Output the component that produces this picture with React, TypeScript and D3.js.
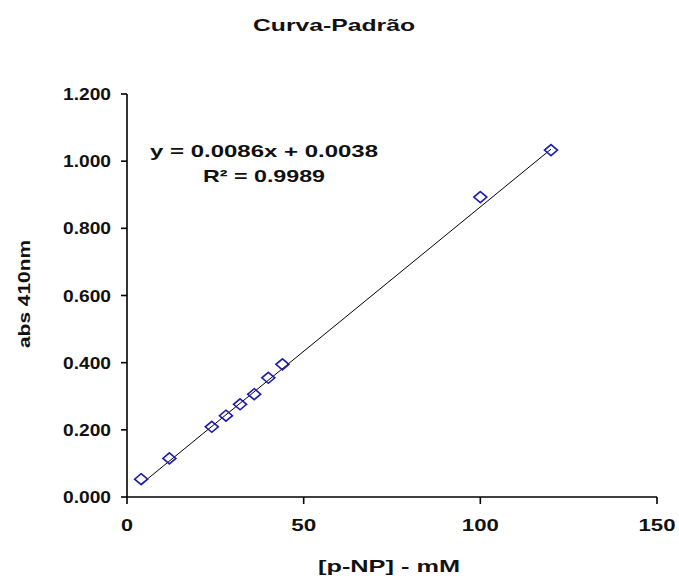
import React from "react";
import * as d3 from "d3";

const concentrations = [4, 12, 24, 28, 32, 36, 40, 44, 100, 120];
const absorbances = [0.053, 0.115, 0.209, 0.242, 0.276, 0.306, 0.355, 0.395, 0.893, 1.033];
const xTicks = [0, 50, 100, 150];
const yTicks = [0, 0.2, 0.4, 0.6, 0.8, 1.0, 1.2];
const slope = 0.0086;
const intercept = 0.0038;
const titleText = "Curva-Padrão";
const xLabel = "[p-NP] - mM";
const yLabel = "abs 410nm";
const eqText = "y = 0.0086x + 0.0038";
const r2Text = "R² = 0.9989";

const W = 679;
const H = 581;
const FONT = "'Liberation Sans', Arial, sans-serif";

export default function App() {
  const x = d3.scaleLinear().domain([0, 150]).range([127, 657]);
  const y = d3.scaleLinear().domain([0, 1.2]).range([497, 94]);
  const fmt = d3.format(".3f");
  const xMin = d3.min(concentrations) as number;
  const xMax = d3.max(concentrations) as number;
  const trend = [xMin, xMax].map((v) => [x(v), y(slope * v + intercept)] as [number, number]);
  const line = d3.line();
  const diamond = (cx: number, cy: number, rx: number, ry: number) =>
    `M${cx},${cy - ry}L${cx + rx},${cy}L${cx},${cy + ry}L${cx - rx},${cy}Z`;

  const tickW = (s: string) => (s.length === 1 ? 12 : s.length === 2 ? 25 : 37);

  return (
    <svg
      width={W}
      height={H}
      style={{ position: "absolute", left: 0, top: 0, background: "#fff" }}
      fontFamily={FONT}
      fontWeight="bold"
      fill="#111"
    >
      <rect x={0} y={0} width={W} height={H} fill="#fff" />
      <text x={334} y={31} fontSize={17} textAnchor="middle" textLength={162} lengthAdjust="spacingAndGlyphs">
        {titleText}
      </text>

      {/* axes */}
      <line x1={x(0)} x2={x(0)} y1={y(1.2)} y2={y(0)} stroke="#000" strokeWidth={1.6} />
      <line x1={x(0)} x2={x(150)} y1={y(0)} y2={y(0)} stroke="#000" strokeWidth={1.6} />
      {yTicks.map((t) => (
        <g key={"y" + t}>
          <line x1={x(0) - 6} x2={x(0)} y1={y(t)} y2={y(t)} stroke="#000" strokeWidth={1.6} />
          <text x={111} y={y(t) + 6} fontSize={17} textAnchor="end" textLength={48} lengthAdjust="spacingAndGlyphs">
            {fmt(t)}
          </text>
        </g>
      ))}
      {xTicks.map((t) => (
        <g key={"x" + t}>
          <line x1={x(t)} x2={x(t)} y1={y(0)} y2={y(0) + 7} stroke="#000" strokeWidth={1.6} />
          <text
            x={x(t)}
            y={531}
            fontSize={17}
            textAnchor="middle"
            textLength={tickW(String(t))}
            lengthAdjust="spacingAndGlyphs"
          >
            {String(t)}
          </text>
        </g>
      ))}

      {/* trendline */}
      <path d={line(trend) || ""} stroke="#000" strokeWidth={1} fill="none" />

      {/* points */}
      {concentrations.map((c, i) => (
        <path
          key={i}
          d={diamond(x(c), y(absorbances[i]), 6.5, 5.5)}
          fill="none"
          stroke="#1c1cb0"
          strokeWidth={1.6}
        />
      ))}

      {/* equation */}
      <text x={264} y={157} fontSize={17} textAnchor="middle" textLength={228} lengthAdjust="spacingAndGlyphs">
        {eqText}
      </text>
      <text x={264} y={182} fontSize={17} textAnchor="middle" textLength={122} lengthAdjust="spacingAndGlyphs">
        {r2Text}
      </text>

      {/* axis labels */}
      <text x={389} y={572} fontSize={17} textAnchor="middle" textLength={142} lengthAdjust="spacingAndGlyphs">
        {xLabel}
      </text>
      <text
        transform={`translate(30,294) rotate(-90)`}
        fontSize={17}
        textAnchor="middle"
        textLength={108}
        lengthAdjust="spacingAndGlyphs"
      >
        {yLabel}
      </text>
    </svg>
  );
}
